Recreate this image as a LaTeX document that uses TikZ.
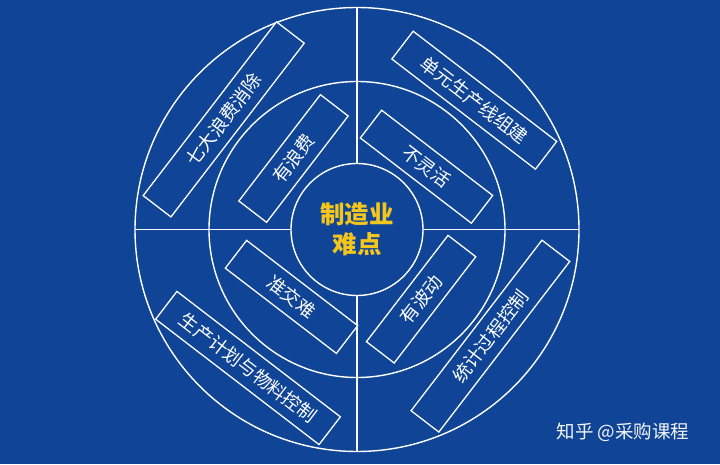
\documentclass[tikz,border=0pt]{standalone}
\usepackage{xcolor}
\usepackage{fontspec}
\usepackage{tikz}
\usetikzlibrary{positioning}
\newfontfamily\cjk{Noto Sans CJK SC}
\definecolor{bgblue}{HTML}{0F4496}
\definecolor{coreyellow}{HTML}{F4C51C}

\begin{document}
\begin{tikzpicture}[x=1pt, y=1pt,
    every node/.style={inner sep=0pt, outer sep=0pt},
    ring/.style={circle, draw=white, line width=1.4pt},
    tag/.style={rectangle, draw=white, line width=1.3pt, fill=bgblue, text=white,
        minimum height=35pt, font=\cjk\fontsize{18.5}{18.5}\selectfont}]

        \fill[bgblue] (0,0) rectangle (720,464);

        \node[ring, minimum size=444pt] (outer) at (357,234.5) {};
        \node[ring, minimum size=296pt] (middle) at (357,234.5) {};
        \node[ring, minimum size=132pt, align=center, text=coreyellow,
            font=\cjk\bfseries\fontsize{24.5}{30}\selectfont] (core) at (357,234.5) {制造业\\难点};

        \draw[white, line width=1.4pt] (outer.north) -- (core.north);
        \draw[white, line width=1.4pt] (core.south) -- (outer.south);
        \draw[white, line width=1.4pt] (outer.west) -- (core.west);
        \draw[white, line width=1.4pt] (core.east) -- (outer.east);

        \node[tag, rotate=52.5, minimum width=219pt] (waste7) at (223.7,344.6) {七大浪费消除};
        \node[tag, rotate=52.5, minimum width=134pt] (waste) at (293.5,305.5) {有浪费};
        \node[tag, rotate=-37.5, minimum width=181pt] (cell) at (474.3,363.8) {单元生产线组建};
        \node[tag, rotate=-37.5, minimum width=140pt] (rigid) at (426.5,297.3) {不灵活};
        \node[tag, rotate=-37.5, minimum width=140pt] (late) at (291.5,167.1) {准交难};
        \node[tag, rotate=-37.5, minimum width=206pt] (plan) at (248,96) {生产计划与物料控制};
        \node[tag, rotate=52.5, minimum width=134pt] (swing) at (421.1,164.8) {有波动};
        \node[tag, rotate=52.5, minimum width=215pt] (spc) at (490.4,127.9) {统计过程控制};

        \node[text=white!92!gray, font=\cjk\fontsize{18.5}{18.5}\selectfont] (mark) at (623,32) {知乎 @采购课程};

    \end{tikzpicture}
\end{document}
